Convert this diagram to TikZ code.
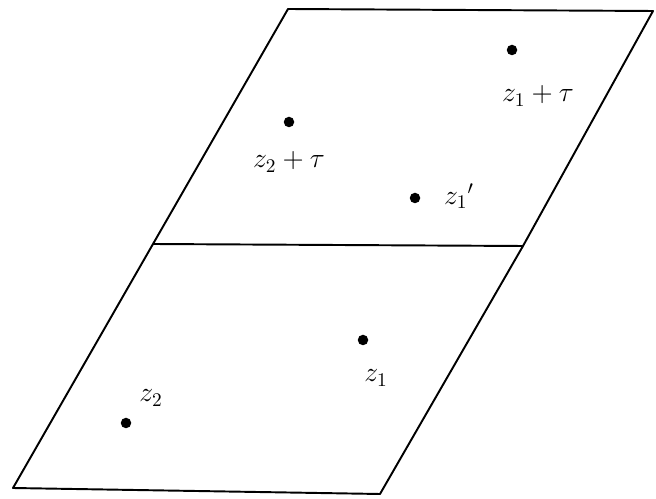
\documentclass[tikz,border=0pt]{standalone}
\usepackage{tikz}
\usetikzlibrary{positioning}

\begin{document}
\begin{tikzpicture}[
x=0.02cm, y=-0.02cm,
edge/.style={draw, line width=1.1pt, line join=round},
pt/.style={circle, fill=black, inner sep=0pt, minimum size=0.21cm},
lbl/.style={font=\Large, scale=1.1, inner sep=1pt}
]

\useasboundingbox (0,0) rectangle (656,499);

% corners of the two period cells
\coordinate (bl) at (13,488);
\coordinate (br) at (380,494);
\coordinate (ml) at (153,244);
\coordinate (mr) at (523,246);
\coordinate (tl) at (288,9);
\coordinate (tr) at (653,11);

\draw[edge] (bl) -- (br) -- (mr) -- (tr) -- (tl) -- (ml) -- cycle;
\draw[edge] (ml) -- (mr);

% points
\node[pt] (z1t) at (512,50) {};
\node[pt] (z2t) at (289,122) {};
\node[pt] (z1p) at (415,198) {};
\node[pt] (z1) at (363,340) {};
\node[pt] (z2) at (126,423) {};

\node[lbl] (lz1t) at (538,96) {$z_1+\tau$};
\node[lbl] (lz2t) at (289,162) {$z_2+\tau$};
\node[lbl] (lz1p) at (459,196) {$z_1{}'$};
\node[lbl] (lz1) at (376,378) {$z_1$};
\node[lbl] (lz2) at (151,398) {$z_2$};

\end{tikzpicture}
\end{document}
